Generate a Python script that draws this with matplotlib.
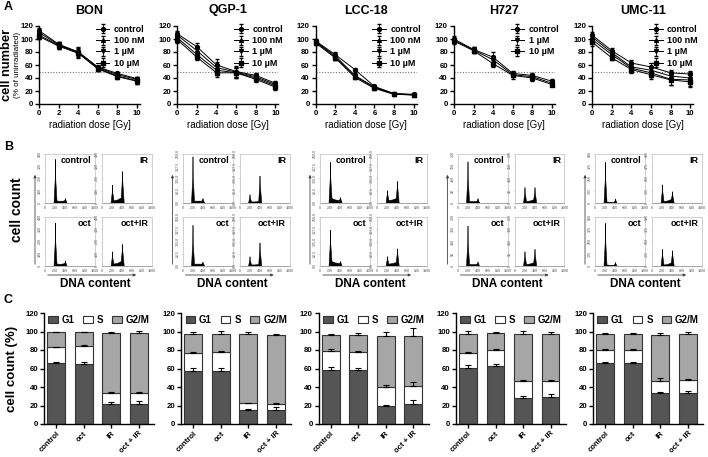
import numpy as np
import matplotlib
matplotlib.use("Agg")
import matplotlib.pyplot as plt

plt.rcParams['font.family'] = ['Liberation Sans', 'DejaVu Sans']
plt.rcParams['font.weight'] = 'bold'
plt.rcParams['axes.labelweight'] = 'bold'

W, H = 708, 457

cell_lines = ["BON", "QGP-1", "LCC-18", "H727", "UMC-11"]

# ---- panel A: survival curves
dose = [0, 2, 4, 6, 8, 10]
treatments = ["control", "100 nM", "1 µM", "10 µM"]
markers = ["o", "^", "v", "s"]

bon_mean = [[113, 92, 80, 57, 47, 39], [110, 91, 80, 56, 45, 38],
            [106, 90, 79, 55, 43, 36], [104, 89, 78, 54, 42, 35]]
bon_err = [[4, 3, 5, 3, 2, 3], [5, 4, 6, 3, 3, 4], [6, 5, 8, 4, 3, 5], [4, 4, 5, 3, 3, 4]]
qgp_mean = [[108, 88, 60, 50, 44, 32], [106, 82, 56, 49, 42, 30],
            [102, 76, 52, 48, 40, 28], [99, 72, 48, 48, 38, 26]]
qgp_err = [[5, 6, 10, 8, 4, 4], [5, 6, 8, 8, 4, 4], [5, 6, 8, 8, 4, 4], [5, 5, 6, 8, 4, 4]]
lcc_mean = [[97, 76, 53, 27, 16, 15], [96, 74, 44, 26, 16, 14],
            [95, 72, 43, 25, 15, 14], [94, 71, 41, 24, 15, 14]]
lcc_err = [[3, 4, 2, 2, 1, 1], [3, 4, 3, 2, 1, 1], [3, 4, 3, 2, 1, 1], [3, 4, 3, 2, 1, 1]]
h727_mean = [[100, 84, 72, 47, 44, 35], [98, 83, 68, 45, 42, 32], [97, 82, 62, 44, 40, 30]]
h727_err = [[4, 4, 8, 4, 3, 3], [4, 4, 6, 4, 3, 3], [4, 4, 5, 6, 4, 3]]
umc_mean = [[106, 82, 63, 57, 48, 46], [103, 79, 57, 52, 43, 40],
            [99, 76, 55, 48, 38, 37], [95, 71, 53, 45, 37, 34]]
umc_err = [[5, 4, 5, 6, 4, 5], [5, 4, 5, 7, 8, 9], [5, 4, 5, 7, 8, 9], [5, 4, 5, 6, 8, 8]]

a_means = [bon_mean, qgp_mean, lcc_mean, h727_mean, umc_mean]
a_errs = [bon_err, qgp_err, lcc_err, h727_err, umc_err]
a_treat_idx = [[0, 1, 2, 3], [0, 1, 2, 3], [0, 1, 2, 3], [0, 2, 3], [0, 1, 2, 3]]

# ---- panel B: DNA histograms (counts at DNA channel points)
conditions = ["control", "IR", "oct", "oct+IR"]
dna_x = [0, 170, 195, 200, 205, 230, 300, 375, 395, 400, 405, 435, 1000]
hist_ymax = [400, 250, 250, 200, 500]
bon_hist = [[0, 0, 200, 360, 200, 20, 18, 20, 30, 40, 30, 0, 0], [0, 0, 90, 150, 90, 22, 28, 45, 180, 260, 180, 0, 0],
            [0, 0, 200, 355, 200, 20, 18, 22, 32, 45, 32, 0, 0], [0, 0, 70, 120, 70, 20, 25, 40, 130, 180, 130, 0, 0]]
qgp_hist = [[0, 0, 130, 238, 130, 12, 12, 12, 20, 25, 20, 0, 0], [0, 0, 30, 45, 30, 8, 8, 10, 100, 140, 100, 0, 0],
            [0, 0, 120, 210, 120, 12, 12, 12, 18, 22, 18, 0, 0], [0, 0, 32, 50, 32, 8, 8, 10, 85, 120, 85, 0, 0]]
lcc_hist = [[0, 0, 130, 210, 130, 25, 18, 15, 24, 30, 24, 0, 0], [0, 0, 45, 65, 45, 15, 18, 25, 80, 112, 80, 0, 0],
            [0, 0, 115, 185, 115, 25, 18, 15, 20, 25, 20, 0, 0], [0, 0, 35, 50, 35, 12, 15, 20, 65, 90, 65, 0, 0]]
h727_hist = [[0, 0, 100, 170, 100, 8, 8, 8, 15, 20, 15, 0, 0], [0, 0, 42, 65, 42, 8, 10, 15, 45, 65, 45, 0, 0],
             [0, 0, 95, 165, 95, 8, 8, 8, 14, 18, 14, 0, 0], [0, 0, 40, 60, 40, 8, 10, 15, 50, 70, 50, 0, 0]]
umc_hist = [[0, 0, 240, 420, 240, 15, 12, 12, 32, 45, 32, 0, 0], [0, 0, 120, 190, 120, 20, 25, 40, 85, 120, 85, 0, 0],
            [0, 0, 250, 440, 250, 15, 12, 12, 30, 40, 30, 0, 0], [0, 0, 110, 175, 110, 15, 20, 35, 115, 160, 115, 0, 0]]
b_hists = [bon_hist, qgp_hist, lcc_hist, h727_hist, umc_hist]

# ---- panel C: cell cycle distribution (G1, S, G2/M stacked; tops given)
groups = ["control", "oct", "IR", "oct + IR"]
g1 = [[66, 65, 22, 22], [57, 57, 15, 15], [58, 58, 19, 22], [61, 63, 28, 29], [66, 65.5, 34, 34]]
s_top = [[83, 84, 34, 34], [77, 78, 22.5, 22], [79, 77.5, 40, 41.5], [77, 80, 47, 47], [80.5, 80, 47, 47.3]]
total = [[99, 99, 98, 98], [97, 97.5, 97, 96], [96, 96.5, 95.5, 95.5], [97.5, 98, 97.5, 97.5], [97, 97.5, 96.5, 97]]
g1_err = [[1.5, 1.5, 2, 3], [4, 4, 1, 3], [4, 3, 1.5, 4], [3, 2, 2, 3], [1, 1, 1, 2]]
s_err = [[0.5, 1.5, 0.5, 0.5], [1, 1, 0.5, 0.5], [2, 1, 2, 3.5], [1, 1, 1, 1], [1, 1, 3, 1]]
tot_err = [[1, 1, 2, 3], [3, 3, 2, 1], [1.5, 1.5, 4, 8], [3, 2, 3, 2], [1, 1, 2, 2]]

fig = plt.figure(figsize=(W / 100, H / 100), dpi=100)


def px_axes(left, top, w, h):
    return fig.add_axes([left / W, 1 - (top + h) / H, w / W, h / H])


def style_prism(ax):
    for s in ["top", "right"]:
        ax.spines[s].set_visible(False)
    for s in ["left", "bottom"]:
        ax.spines[s].set_linewidth(1.0)
    ax.tick_params(direction="out", length=3, width=1, labelsize=5.6, pad=1.3)


# panel A
for i, name in enumerate(cell_lines):
    ax = px_axes(39 + 138.3 * i, 26, 101, 78)
    ax.axhline(50, color="#777777", lw=0.8, ls=(0, (1, 1.5)), zorder=1)
    for k, t in enumerate(a_treat_idx[i]):
        ax.errorbar(dose, a_means[i][k], yerr=a_errs[i][k], color="black", lw=0.7,
                    marker=markers[t], ms=2.8, capsize=1.6, elinewidth=0.6,
                    label=treatments[t], clip_on=False, zorder=3)
    ax.set_xlim(0, 10.3)
    ax.set_ylim(0, 120)
    ax.set_xticks([0, 2, 4, 6, 8, 10])
    ax.set_yticks(range(0, 121, 20))
    style_prism(ax)
    ax.set_title(name, fontsize=9, fontweight="bold", pad=9)
    ax.set_xlabel("radiation dose [Gy]", fontsize=7, labelpad=2, fontweight="normal")
    ax.legend(loc="upper right", bbox_to_anchor=(1.08, 1.06), frameon=False, fontsize=6.5,
              handlelength=1.5, handletextpad=0.5, labelspacing=0.25, borderaxespad=0)
    if i == 0:
        fig.text(7 / W, 1 - 65 / H, "cell number", rotation=90,
                 ha="center", va="center", fontsize=9.3)
        fig.text(17.4 / W, 1 - 65 / H, "(% of unirradiated)", rotation=90,
                 ha="center", va="center", fontsize=5.8, fontweight="normal")

# panel B
for i, name in enumerate(cell_lines):
    gl = 45 + 137.5 * i
    for c, cond in enumerate(conditions):
        col, row = c % 2, c // 2
        ax = px_axes(gl + 57 * col, 154 + 63 * row, 50, 49)
        ax.fill_between(dna_x, b_hists[i][c], color="black", edgecolor="black", lw=0.4)
        ax.set_xlim(0, 1000)
        ax.set_ylim(0, hist_ymax[i])
        ax.set_xticks([0, 200, 400, 600, 800, 1000])
        ax.set_yticks(np.linspace(0, hist_ymax[i], 5))
        ax.tick_params(labelsize=2.6, length=1, width=0.4, pad=1, colors="#888888")
        for lab in ax.get_yticklabels():
            lab.set_rotation(90)
            lab.set_va("center")
        for s in ax.spines.values():
            s.set_color("#c8c8c8")
            s.set_linewidth(0.6)
        ax.text(0.93, 0.86, cond, transform=ax.transAxes, ha="right", va="center", fontsize=6.5)
    fig.add_artist(matplotlib.patches.FancyArrowPatch(
        ((gl - 10) / W, 1 - 267 / H), ((gl - 10) / W, 1 - 172 / H),
        transform=fig.transFigure, arrowstyle="-|>", mutation_scale=4, lw=0.6, color="#444444"))
    fig.add_artist(matplotlib.patches.FancyArrowPatch(
        (gl / W, 1 - 275 / H), ((gl + 94) / W, 1 - 275 / H),
        transform=fig.transFigure, arrowstyle="-|>", mutation_scale=4, lw=0.6, color="#444444"))
    fig.text((gl + 50) / W, 1 - 284 / H, "DNA content", ha="center", va="center", fontsize=8.5)
fig.text(17 / W, 1 - 210 / H, "cell count", rotation=90, ha="center", va="center", fontsize=10)

# panel C
pos = np.arange(4)
for i, name in enumerate(cell_lines):
    ax = px_axes(44 + 137.3 * i, 313, 110, 111)
    g1v = np.array(g1[i])
    sv = np.array(s_top[i])
    tv = np.array(total[i])
    zeros = np.zeros(4)
    ax.bar(pos, g1v, 0.65, color="#555555", edgecolor="#333333", lw=0.8, label="G1", zorder=2)
    ax.bar(pos, sv - g1v, 0.65, bottom=g1v, color="white", edgecolor="#333333", lw=0.8, label="S", zorder=2)
    ax.bar(pos, tv - sv, 0.65, bottom=sv, color="#a6a6a6", edgecolor="#333333", lw=0.8, label="G2/M", zorder=2)
    for top, err in [(g1v, g1_err[i]), (sv, s_err[i]), (tv, tot_err[i])]:
        ax.errorbar(pos, top, yerr=[zeros, err], fmt="none", ecolor="black", elinewidth=0.8,
                    capsize=2.5, capthick=0.8, zorder=3)
    ax.set_xlim(-0.44, 3.56)
    ax.set_ylim(0, 120)
    ax.set_yticks(range(0, 121, 20))
    ax.set_xticks(pos)
    ax.set_xticklabels(groups, rotation=45, ha="right", rotation_mode="anchor", fontsize=6.5)
    style_prism(ax)
    ax.legend(loc="upper center", bbox_to_anchor=(0.5, 1.02), ncol=3, frameon=False, fontsize=7,
              handlelength=1.0, handleheight=0.8, handletextpad=0.4, columnspacing=0.9, borderaxespad=0)
    if i == 0:
        ax.set_ylabel("cell count (%)", fontsize=9.5, labelpad=5)

fig.text(4 / W, 1 - 7 / H, "A", fontsize=9, fontweight="bold", va="center")
fig.text(4 / W, 1 - 147 / H, "B", fontsize=9, fontweight="bold", va="center")
fig.text(4 / W, 1 - 300 / H, "C", fontsize=9, fontweight="bold", va="center")

fig.savefig("out.png", dpi=100)
